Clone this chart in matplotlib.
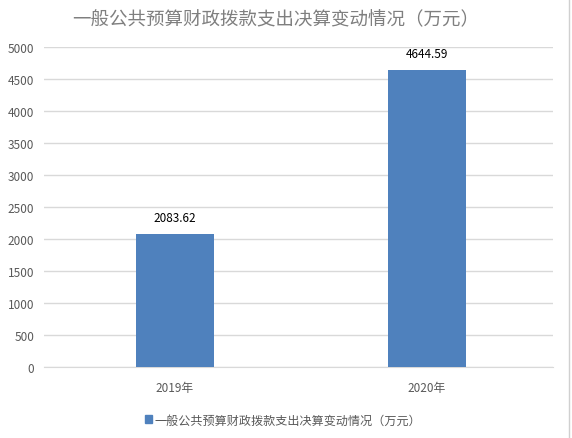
import matplotlib
matplotlib.use("Agg")
import matplotlib.pyplot as plt
from matplotlib.patches import Rectangle
from matplotlib.lines import Line2D

plt.rcParams['font.family'] = ['Noto Sans CJK SC', 'DejaVu Sans']

categories = ['2019年', '2020年']
values = [2083.62, 4644.59]
value_labels = ['2083.62', '4644.59']
yticks = [0, 500, 1000, 1500, 2000, 2500, 3000, 3500, 4000, 4500, 5000]
title = '一般公共预算财政拨款支出决算变动情况（万元）'
series_name = '一般公共预算财政拨款支出决算变动情况（万元）'

W, H = 572, 439
fig = plt.figure(figsize=(W / 100, H / 100), dpi=100)
ax = fig.add_axes([44 / W, 1 - 368 / H, (553 - 44) / W, (368 - 48) / H])

color = '#4F81BD'
x = list(range(len(categories)))
ax.bar(x, values, width=0.31, color=color, zorder=3)
ax.set_xlim(-0.52, 1.5)
ax.set_ylim(0, 5000)
ax.set_yticks(yticks)
ax.set_yticklabels([str(t) for t in yticks], fontsize=8.5, color='#595959')
ax.set_xticks(x)
ax.set_xticklabels(categories, fontsize=8.5, color='#595959')
ax.tick_params(axis='both', length=0)
ax.tick_params(axis='y', pad=7)
ax.tick_params(axis='x', pad=10)
ax.grid(axis='y', color='#D9D9D9', linewidth=1, zorder=0)
for s in ['top', 'right', 'left']:
    ax.spines[s].set_visible(False)
ax.spines['bottom'].set_color('#D9D9D9')

for xi, v, lab in zip(x, values, value_labels):
    ax.annotate(lab, (xi, v), xytext=(0, 7), textcoords='offset points',
                ha='center', va='bottom', fontsize=8.5, color='black')

fig.text(276 / W, 1 - 20 / H, title, ha='center', va='center',
         fontsize=13.3, color='#7F7F7F')

handle = Rectangle((0, 0), 1, 1, color=color)
fig.legend([handle], [series_name], loc='center', bbox_to_anchor=(283 / W, 1 - 421 / H),
           frameon=False, fontsize=8.7, handlelength=0.6, handleheight=0.6,
           handletextpad=0.2, labelcolor='#595959')

fig.add_artist(Line2D([569 / W, 569 / W], [0, 1], color='#D0D0D0', linewidth=1,
                      transform=fig.transFigure))

fig.savefig('out.png', dpi=100)
